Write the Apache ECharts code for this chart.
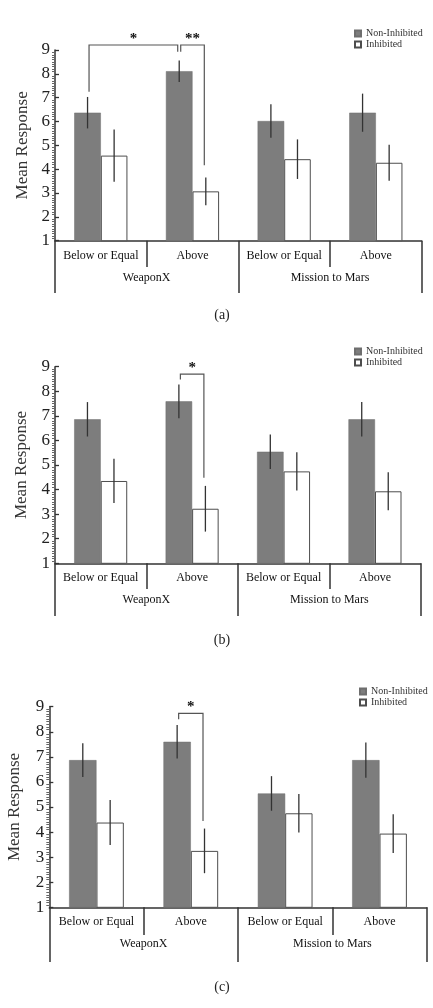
<!DOCTYPE html>
<html>
<head>
    <meta charset="utf-8">
    <title>Mean Response</title>
    <script src="https://cdn.jsdelivr.net/npm/echarts@6/dist/echarts.min.js"></script>
    <style>
        html, body { margin: 0; padding: 0; background: #fff; }
        #main { width: 433px; height: 1008px; }
    </style>
</head>
<body>
<div id="main"></div>
<script>
    // 类别
    var levels = ['Below or Equal', 'Above', 'Below or Equal', 'Above'];
    var games = ['WeaponX', 'Mission to Mars'];
    var seriesNames = ['Non-Inhibited', 'Inhibited'];
    var yMin = 1, yMax = 9, yStep = 1;

    // (a)
    var aNon = [6.37, 8.11, 6.02, 6.37];
    var aNonErr = [0.66, 0.45, 0.70, 0.80];
    var aInh = [4.57, 3.07, 4.42, 4.27];
    var aInhErr = [1.10, 0.58, 0.83, 0.75];
    // [左类别, 左侧(-1深/1白), 右类别, 右侧, 左脚, 右脚, 顶]
    var aBrackets = [[0, -1, 1, -1, 7.25, 8.93, 9.21], [1, -1, 1, 1, 8.93, 4.17, 9.21]];
    var aStars = ['*', '**'];

    // (b)
    var bNon = [6.86, 7.59, 5.54, 6.86];
    var bNonErr = [0.70, 0.69, 0.70, 0.70];
    var bInh = [4.35, 3.22, 4.74, 3.93];
    var bInhErr = [0.90, 0.93, 0.78, 0.77];
    var bBrackets = [[1, -1, 1, 1, 8.48, 4.48, 8.70]];
    var bStars = ['*'];

    // (c)
    var cNon = [6.87, 7.60, 5.54, 6.87];
    var cNonErr = [0.67, 0.67, 0.69, 0.70];
    var cInh = [4.38, 3.25, 4.75, 3.94];
    var cInhErr = [0.90, 0.89, 0.77, 0.77];
    var cBrackets = [[1, -1, 1, 1, 8.50, 4.44, 8.73]];
    var cStars = ['*'];

    var BAR_FRAC = 0.29;
    var FONT = '"Liberation Serif", "DejaVu Serif", serif';

    var chart = echarts.init(document.getElementById('main'));

    var panels = [
        {non: aNon, nonErr: aNonErr, inh: aInh, inhErr: aInhErr, brackets: aBrackets, stars: aStars,
            grid: {left: 55, top: 50, width: 366.7, height: 190.7}, tickIn: 26.3, tickOut: 52.3, nameGap: 19,
            legend: {left: 354, top: 28}, tag: '(a)', tagY: 315},
        {non: bNon, nonErr: bNonErr, inh: bInh, inhErr: bInhErr, brackets: bBrackets, stars: bStars,
            grid: {left: 55, top: 366.7, width: 365.7, height: 196.6}, tickIn: 25.7, tickOut: 52.7, nameGap: 25,
            legend: {left: 354, top: 346}, tag: '(b)', tagY: 640},
        {non: cNon, nonErr: cNonErr, inh: cInh, inhErr: cInhErr, brackets: cBrackets, stars: cStars,
            grid: {left: 49.3, top: 706.7, width: 377.4, height: 200.6}, tickIn: 27.7, tickOut: 54.7, nameGap: 26,
            legend: {left: 359, top: 686}, tag: '(c)', tagY: 987}
    ];

    function errRows(mean, err) {
        return mean.map(function (v, i) {
            return [i, v - err[i], v + err[i]];
        });
    }

    function errorItem(side) {
        return function (params, api) {
            var half = api.size([1, 0])[0] * BAR_FRAC / 2;
            var lo = api.coord([api.value(0), api.value(1)]);
            var hi = api.coord([api.value(0), api.value(2)]);
            var x = lo[0] + side * half;
            return {
                type: 'line',
                shape: {x1: x, y1: lo[1], x2: x, y2: hi[1]},
                style: {stroke: '#333', lineWidth: 1.3}
            };
        };
    }

    function bracketItem(stars) {
        return function (params, api) {
            var half = api.size([1, 0])[0] * BAR_FRAC / 2;
            var xl = api.coord([api.value(0), api.value(4)])[0] + api.value(1) * half + 1.5;
            var xr = api.coord([api.value(2), api.value(5)])[0] + api.value(3) * half - 1.5;
            var yl = api.coord([api.value(0), api.value(4)])[1];
            var yr = api.coord([api.value(2), api.value(5)])[1];
            var yt = api.coord([api.value(0), api.value(6)])[1];
            return {
                type: 'group',
                children: [{
                    type: 'polyline',
                    shape: {points: [[xl, yl], [xl, yt], [xr, yt], [xr, yr]]},
                    style: {stroke: '#555', lineWidth: 1.2, fill: 'none'}
                }, {
                    type: 'text',
                    x: (xl + xr) / 2,
                    y: yt - 6,
                    style: {
                        text: stars[params.dataIndex], align: 'center', verticalAlign: 'middle',
                        font: 'bold 15px ' + FONT, fill: '#111'
                    }
                }]
            };
        };
    }

    var option = {
        animation: false,
        backgroundColor: '#fff',
        grid: [], xAxis: [], yAxis: [], series: [], legend: [], graphic: []
    };

    panels.forEach(function (p, k) {
        var g = p.grid;
        option.grid.push({left: g.left, top: g.top, width: g.width, height: g.height, outerBoundsMode: 'none'});

        // 内层类别
        option.xAxis.push({
            type: 'category', gridIndex: k, data: levels, position: 'bottom',
            axisLine: {lineStyle: {color: '#333', width: 1.5}},
            axisTick: {show: true, length: p.tickIn, lineStyle: {color: '#333', width: 1.5}},
            axisLabel: {interval: 0, margin: 9, color: '#111', fontSize: 12, fontFamily: FONT},
            splitLine: {show: false}
        });
        // 外层类别
        option.xAxis.push({
            type: 'category', gridIndex: k, data: games, position: 'bottom',
            axisLine: {show: false},
            axisTick: {show: true, length: p.tickOut, lineStyle: {color: '#333', width: 1.5}},
            axisLabel: {interval: 0, margin: 31, color: '#111', fontSize: 12, fontFamily: FONT},
            splitLine: {show: false}
        });

        option.yAxis.push({
            type: 'value', gridIndex: k, position: 'left', min: yMin, max: yMax, interval: yStep,
            name: 'Mean Response', nameLocation: 'middle', nameGap: p.nameGap,
            nameTextStyle: {fontSize: 17, color: '#333', fontFamily: FONT},
            axisLine: {show: true, lineStyle: {color: '#333', width: 1.5}},
            axisTick: {show: true, inside: true, length: 4, lineStyle: {color: '#333', width: 1.3}},
            axisLabel: {margin: 5, fontSize: 17, color: '#222', fontFamily: FONT},
            splitLine: {show: false}
        });
        // 次刻度
        option.yAxis.push({
            type: 'value', gridIndex: k, position: 'left', offset: 0, min: yMin, max: yMax, interval: yStep,
            axisLine: {show: false}, axisTick: {show: false}, axisLabel: {show: false},
            minorTick: {show: true, splitNumber: 10, length: 3, lineStyle: {color: '#666', width: 1}},
            splitLine: {show: false}
        });

        var xi = k * 2, yi = k * 2;
        option.series.push({
            type: 'bar', name: seriesNames[0], xAxisIndex: xi, yAxisIndex: yi, data: p.non,
            barWidth: (BAR_FRAC * 100) + '%', barGap: '0%',
            itemStyle: {color: '#7d7d7d', borderColor: '#6e6e6e', borderWidth: 0.5}
        });
        option.series.push({
            type: 'bar', name: seriesNames[1], xAxisIndex: xi, yAxisIndex: yi, data: p.inh,
            barWidth: (BAR_FRAC * 100) + '%', barGap: '0%',
            itemStyle: {color: '#ffffff', borderColor: '#4d4d4d', borderWidth: 1}
        });
        option.series.push({
            type: 'custom', name: 'errNon' + k, xAxisIndex: xi, yAxisIndex: yi, z: 5,
            data: errRows(p.non, p.nonErr), encode: {x: 0, y: [1, 2]}, renderItem: errorItem(-1)
        });
        option.series.push({
            type: 'custom', name: 'errInh' + k, xAxisIndex: xi, yAxisIndex: yi, z: 5,
            data: errRows(p.inh, p.inhErr), encode: {x: 0, y: [1, 2]}, renderItem: errorItem(1)
        });
        option.series.push({
            type: 'custom', name: 'sig' + k, xAxisIndex: xi, yAxisIndex: yi, z: 6, clip: false,
            data: p.brackets, encode: {x: 0, y: 4}, renderItem: bracketItem(p.stars)
        });

        option.legend.push({
            data: [{name: seriesNames[0], icon: 'rect'}, {name: seriesNames[1], icon: 'rect'}],
            orient: 'vertical', left: p.legend.left, top: p.legend.top, padding: 0,
            itemWidth: 6, itemHeight: 6, itemGap: 0, selectedMode: false,
            textStyle: {fontSize: 10, color: '#333', fontFamily: FONT, lineHeight: 11}
        });

        option.graphic.push({
            type: 'text', x: 222, y: p.tagY,
            style: {text: p.tag, align: 'center', verticalAlign: 'middle', font: '14px ' + FONT, fill: '#222'}
        });
    });

    chart.setOption(option);
</script>
</body>
</html>
